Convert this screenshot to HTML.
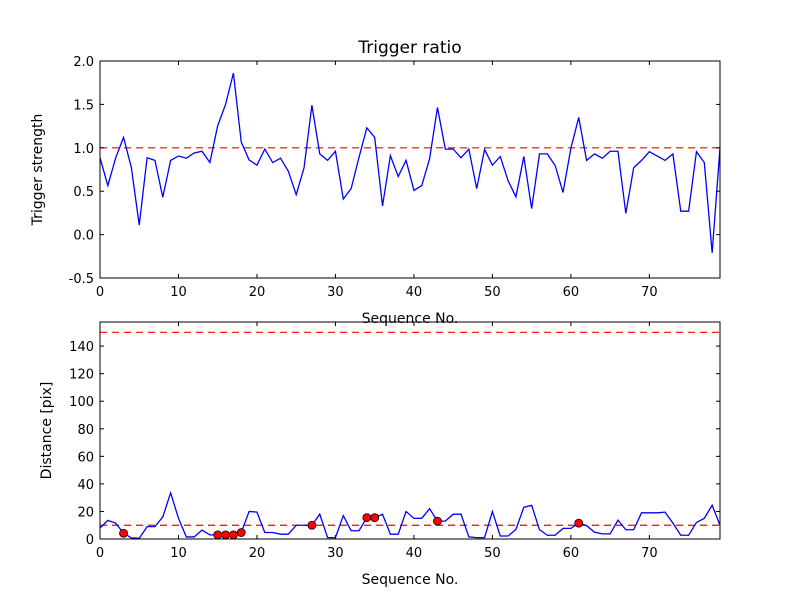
<!DOCTYPE html>
<html><head><meta charset="utf-8"><style>
html,body{margin:0;padding:0;background:#fff}
svg{display:block;font-family:"DejaVu Sans","Liberation Sans",sans-serif}
</style></head><body>
<svg id="fig" width="800" height="600" viewBox="0 0 800 600">
<rect width="800" height="600" fill="#fff"/>
</svg>
<script>
const strength=[0.885,0.565,0.885,1.12,0.77,0.11,0.885,0.855,0.43,0.855,0.905,0.88,0.94,0.96,0.83,1.255,1.5,1.86,1.065,0.86,0.80,0.985,0.83,0.88,0.73,0.46,0.77,1.49,0.93,0.855,0.96,0.41,0.53,0.89,1.23,1.12,0.33,0.91,0.67,0.855,0.51,0.565,0.875,1.465,0.985,0.985,0.885,0.985,0.53,0.98,0.80,0.90,0.62,0.435,0.90,0.30,0.93,0.93,0.795,0.485,0.995,1.35,0.855,0.93,0.88,0.96,0.96,0.245,0.77,0.855,0.955,0.905,0.855,0.93,0.27,0.27,0.955,0.83,-0.21,1.0];
const distance=[8,13.5,11.5,4.2,0.8,0.5,9,9,16,33.5,15,1.5,1.5,6.5,3,3,3,3,4.7,20,19.5,4.7,4.7,3.5,3.5,10,10,10,18,1,1,17,6,6,15.5,15.5,18,3.5,3.5,20,15,15,22,13,13,18,18,1.5,1,1,20,2.2,2.2,7,23,24.5,6.7,2.7,2.7,7.7,7.7,11.5,9.7,5,3.7,3.7,13.7,6.7,6.7,19,19,19,19.5,11.5,2.7,2.7,12,15,24.5,10];
const xTicks=[0,10,20,30,40,50,60,70];
const topYTicks=[-0.5,0,0.5,1.0,1.5,2.0];
const botYTicks=[0,20,40,60,80,100,120,140];
const strengthThreshold=1.0;
const distanceThresholds=[10,150];

const NS="http://www.w3.org/2000/svg";
const svg=document.getElementById('fig');
function mk(tag,attrs,parent){const e=document.createElementNS(NS,tag);for(const k in attrs)e.setAttribute(k,attrs[k]);(parent||svg).appendChild(e);return e;}
const L=100,R=720;
const xs=v=>L+(v-0)/(79-0)*(R-L);
function axes(name,top,bot,ymin,ymax,yticks,fmt,ylabel){
  const g=mk('g',{});
  
  
  const ys=v=>bot-(v-ymin)/(ymax-ymin)*(bot-top);
  return {g,ys,top,bot,yticks,fmt,ylabel};
}
function frame(a,xlabel){
  const {g,ys,top,bot}=a;
  const f=mk('rect',{x:L,y:top,width:R-L,height:bot-top,fill:'none',stroke:'#000','stroke-width':1},g);
  
  
  xTicks.forEach(t=>{const x=xs(t);
    mk('line',{x1:x,y1:bot,x2:x,y2:bot-4,stroke:'#000'},g);
    mk('line',{x1:x,y1:top,x2:x,y2:top+4,stroke:'#000'},g);
    const tx=mk('text',{x:x,y:bot+18,'font-size':13,'text-anchor':'middle'},g);tx.textContent=t;
    
    
  });
  a.yticks.forEach(t=>{const y=ys(t);
    mk('line',{x1:L,y1:y,x2:L+4,y2:y,stroke:'#000'},g);
    mk('line',{x1:R,y1:y,x2:R-4,y2:y,stroke:'#000'},g);
    const tx=mk('text',{x:L-6,y:y+5,'font-size':13,'text-anchor':'end'},g);tx.textContent=a.fmt(t);
    
    
  });
  const xl=mk('text',{x:(L+R)/2,y:bot+45,'font-size':14,'text-anchor':'middle'},g);xl.textContent=xlabel;
  
  
  const cy=(top+bot)/2;
  const yl=mk('text',{x:0,y:0,'font-size':14,'text-anchor':'middle',transform:`translate(${a.ylabelX},${cy}) rotate(-90)`},g);yl.textContent=a.ylabel;
  
  
}
// top
const A=axes('trigger-strength-axes',61,278,-0.5,2.0,topYTicks,v=>v.toFixed(1),'Trigger strength');A.ylabelX=42;
const dl1=mk('line',{x1:L,x2:R,y1:A.ys(strengthThreshold),y2:A.ys(strengthThreshold),stroke:'#f00','stroke-dasharray':'7,5','stroke-width':1.2},A.g);


const p1=mk('polyline',{points:strength.map((v,i)=>xs(i)+','+A.ys(v)).join(' '),fill:'none',stroke:'#00f','stroke-width':1.3},A.g);


frame(A,'Sequence No.');
const title=mk('text',{x:(L+R)/2,y:53,'font-size':17,'text-anchor':'middle'});title.textContent='Trigger ratio';


// bottom
const B=axes('distance-axes',322,539,0,157.5,botYTicks,v=>String(v),'Distance [pix]');B.ylabelX=51;
distanceThresholds.forEach(t=>{
  const d=mk('line',{x1:L,x2:R,y1:B.ys(t),y2:B.ys(t),stroke:'#f00','stroke-dasharray':'7,5','stroke-width':1.2},B.g);
  
  
});
const p2=mk('polyline',{points:distance.map((v,i)=>xs(i)+','+B.ys(v)).join(' '),fill:'none',stroke:'#00f','stroke-width':1.3},B.g);


distance.forEach((v,i)=>{ if(strength[i]>strengthThreshold){
  const c=mk('circle',{cx:xs(i),cy:B.ys(v),r:4,fill:'#f00',stroke:'#000','stroke-width':0.8},B.g);
  
  
}});
frame(B,'Sequence No.');
</script>
</body></html>
